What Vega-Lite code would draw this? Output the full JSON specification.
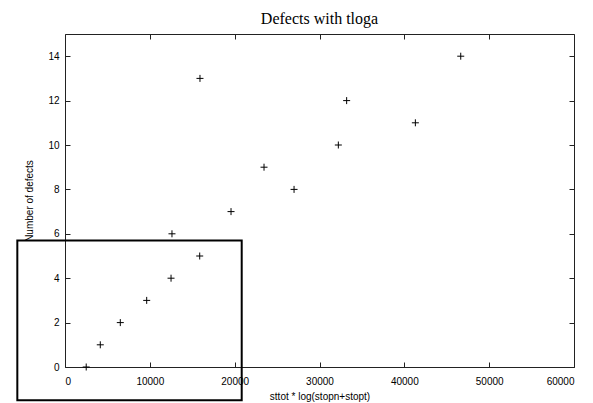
{
  "$schema": "https://vega.github.io/schema/vega-lite/v6.json",
  "width": 509,
  "height": 333,
  "autosize": "none",
  "padding": {"left": 65, "top": 34, "right": 19, "bottom": 36},
  "background": "white",
  "config": {
    "view": {"stroke": "#222", "strokeWidth": 1},
    "axis": {
      "grid": false,
      "domain": false,
      "tickSize": -5,
      "tickColor": "#222",
      "tickWidth": 1,
      "labelFont": "Liberation Sans",
      "labelFontSize": 10,
      "labelColor": "#000",
      "titleFont": "Liberation Sans",
      "titleFontSize": 10,
      "titleFontWeight": "normal",
      "titleColor": "#000"
    }
  },
  "title": {
    "text": "Defects with tloga",
    "font": "Liberation Serif",
    "fontSize": 16,
    "fontWeight": "normal",
    "color": "#000",
    "anchor": "middle",
    "frame": "group",
    "baseline": "alphabetic",
    "offset": -6
  },
  "datasets": {
    "points": [
      {"metric": 2500, "defects": 0},
      {"metric": 4160, "defects": 1},
      {"metric": 6520, "defects": 2},
      {"metric": 9630, "defects": 3},
      {"metric": 12500, "defects": 4},
      {"metric": 15880, "defects": 5},
      {"metric": 12610, "defects": 6},
      {"metric": 19570, "defects": 7},
      {"metric": 27000, "defects": 8},
      {"metric": 23460, "defects": 9},
      {"metric": 32220, "defects": 10},
      {"metric": 41300, "defects": 11},
      {"metric": 33200, "defects": 12},
      {"metric": 15910, "defects": 13},
      {"metric": 46650, "defects": 14}
    ],
    "box": [
      {"x1": -5620, "x2": 20830, "y1": -1.5, "y2": 5.7}
    ]
  },
  "layer": [
    {
      "data": {"name": "points"},
      "mark": {"type": "point", "shape": "M-1,0L1,0M0,-1L0,1", "size": 49, "stroke": "#000", "strokeWidth": 1, "filled": false, "opacity": 1, "clip": false},
      "encoding": {
        "x": {
          "field": "metric", "type": "quantitative",
          "scale": {"domain": [0, 60000], "nice": false, "zero": false},
          "axis": {"orient": "bottom", "values": [0, 10000, 20000, 30000, 40000, 50000, 60000], "format": "d", "labelPadding": 14, "title": "sttot * log(stopn+stopt)", "titlePadding": 5}
        },
        "y": {
          "field": "defects", "type": "quantitative",
          "scale": {"domain": [0, 15], "nice": false, "zero": false},
          "axis": {"orient": "left", "values": [0, 2, 4, 6, 8, 10, 12, 14], "labelPadding": 11, "title": "Number of defects", "titlePadding": 13}
        }
      }
    },
    {
      "data": {"name": "box"},
      "mark": {"type": "rect", "fillOpacity": 0, "stroke": "#000", "strokeWidth": 2, "clip": false},
      "encoding": {
        "x": {
          "field": "x1", "type": "quantitative",
          "scale": {"domain": [0, 60000], "nice": false, "zero": false},
          "axis": {"orient": "top", "values": [0, 10000, 20000, 30000, 40000, 50000, 60000], "labels": false, "title": null}
        },
        "x2": {"field": "x2"},
        "y": {
          "field": "y1", "type": "quantitative",
          "scale": {"domain": [0, 15], "nice": false, "zero": false},
          "axis": {"orient": "right", "values": [0, 2, 4, 6, 8, 10, 12, 14], "labels": false, "title": null}
        },
        "y2": {"field": "y2"}
      }
    }
  ],
  "resolve": {"axis": {"x": "independent", "y": "independent"}}
}
